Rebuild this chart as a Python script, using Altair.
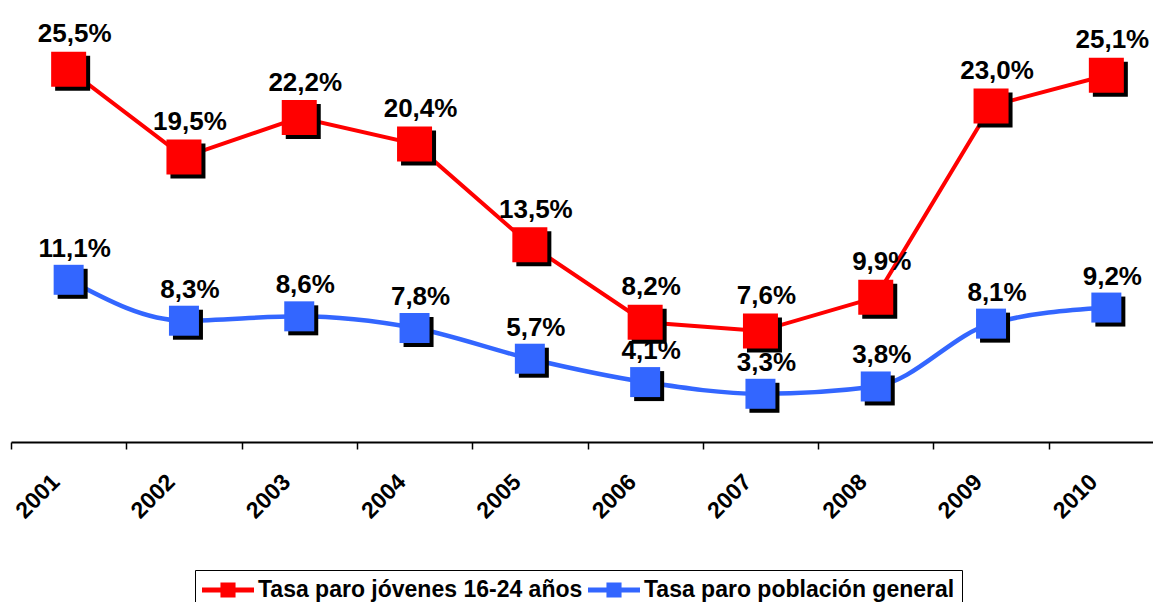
import altair as alt
import pandas as pd

years = ["2001", "2002", "2003", "2004", "2005", "2006", "2007", "2008", "2009", "2010"]
jovenes = [25.5, 19.5, 22.2, 20.4, 13.5, 8.2, 7.6, 9.9, 23.0, 25.1]
general = [11.1, 8.3, 8.6, 7.8, 5.7, 4.1, 3.3, 3.8, 8.1, 9.2]

S1 = "Tasa paro jóvenes 16-24 años"
S2 = "Tasa paro población general"
RED = "#FF0000"
BLUE = "#3366FF"
FONT = "Liberation Sans"

def fmt(v):
    return f"{v:.1f}".replace(".", ",") + "%"

rows = []
for y, a, b in zip(years, jovenes, general):
    rows.append({"year": y, "serie": S1, "value": a, "label": fmt(a)})
    rows.append({"year": y, "serie": S2, "value": b, "label": fmt(b)})
df = pd.DataFrame(rows)

legend_path = "M-2,-0.19H2V0.19H-2Z M-0.58,-0.58H0.58V0.58H-0.58Z"

x_enc = alt.X(
    "year:N",
    sort=years,
    scale=alt.Scale(paddingInner=0, paddingOuter=0, range=[0, 1153]),
    axis=alt.Axis(
        title=None,
        labelAngle=-45,
        labelAlign="right",
        labelBaseline="middle",
        labelFont=FONT,
        labelFontSize=23,
        labelFontWeight="bold",
        labelColor="black",
        labelOffset=-13,
        labelPadding=29,
        tickBand="extent",
        tickSize=7,
        tickWidth=1.5,
        tickColor="black",
        domainColor="black",
        domainWidth=2,
        grid=False,
    ),
)
y_enc = alt.Y("value:Q", scale=alt.Scale(domain=[0, 29.7], nice=False, zero=True), axis=None)

color_enc = alt.Color(
    "serie:N",
    scale=alt.Scale(domain=[S1, S2], range=[RED, BLUE]),
    legend=alt.Legend(
        title=None,
        orient="none",
        legendX=184,
        legendY=562,
        direction="horizontal",
        symbolType=legend_path,
        symbolSize=676,
        symbolStrokeWidth=0,
        symbolOpacity=1,
        symbolOffset=13,
        labelFont=FONT,
        labelFontSize=23,
        labelFontWeight="bold",
        labelColor="black",
        labelLimit=0,
        labelOffset=17,
        columnPadding=5,
        padding=7,
        strokeColor="black",
        fillColor="white",
    ),
)

base = alt.Chart(df).encode(x=x_enc, y=y_enc)

red_line = base.transform_filter(alt.datum.serie == S1).mark_line(color=RED, strokeWidth=4)
blue_line = base.transform_filter(alt.datum.serie == S2).mark_line(
    color=BLUE, strokeWidth=4.5, interpolate="monotone"
)

red_shadow = base.transform_filter(alt.datum.serie == S1).mark_square(
    color="black", size=1225, opacity=1, xOffset=4, yOffset=4
)
blue_shadow = base.transform_filter(alt.datum.serie == S2).mark_square(
    color="black", size=900, opacity=1, xOffset=4, yOffset=4
)

red_sq = base.transform_filter(alt.datum.serie == S1).mark_square(size=1225, opacity=1).encode(color=color_enc)
blue_sq = base.transform_filter(alt.datum.serie == S2).mark_square(size=900, opacity=1).encode(color=color_enc)

red_txt = base.transform_filter(alt.datum.serie == S1).mark_text(
    font=FONT, fontSize=26, fontWeight="bold", color="black", dx=6, dy=-35, baseline="middle"
).encode(text="label:N")
blue_txt = base.transform_filter(alt.datum.serie == S2).mark_text(
    font=FONT, fontSize=26, fontWeight="bold", color="black", dx=6, dy=-31, baseline="middle"
).encode(text="label:N")

chart = (
    alt.layer(red_line, blue_line, red_shadow, blue_shadow, red_sq, blue_sq, red_txt, blue_txt)
    .properties(
        width=1142,
        height=434,
        autosize=alt.AutoSizeParams(type="none"),
        padding={"left": 3, "top": 0, "right": 0, "bottom": 160},
        background="white",
    )
    .configure_view(stroke=None)
)

chart.save("out.html", embed_options={"renderer": "svg", "actions": False})
